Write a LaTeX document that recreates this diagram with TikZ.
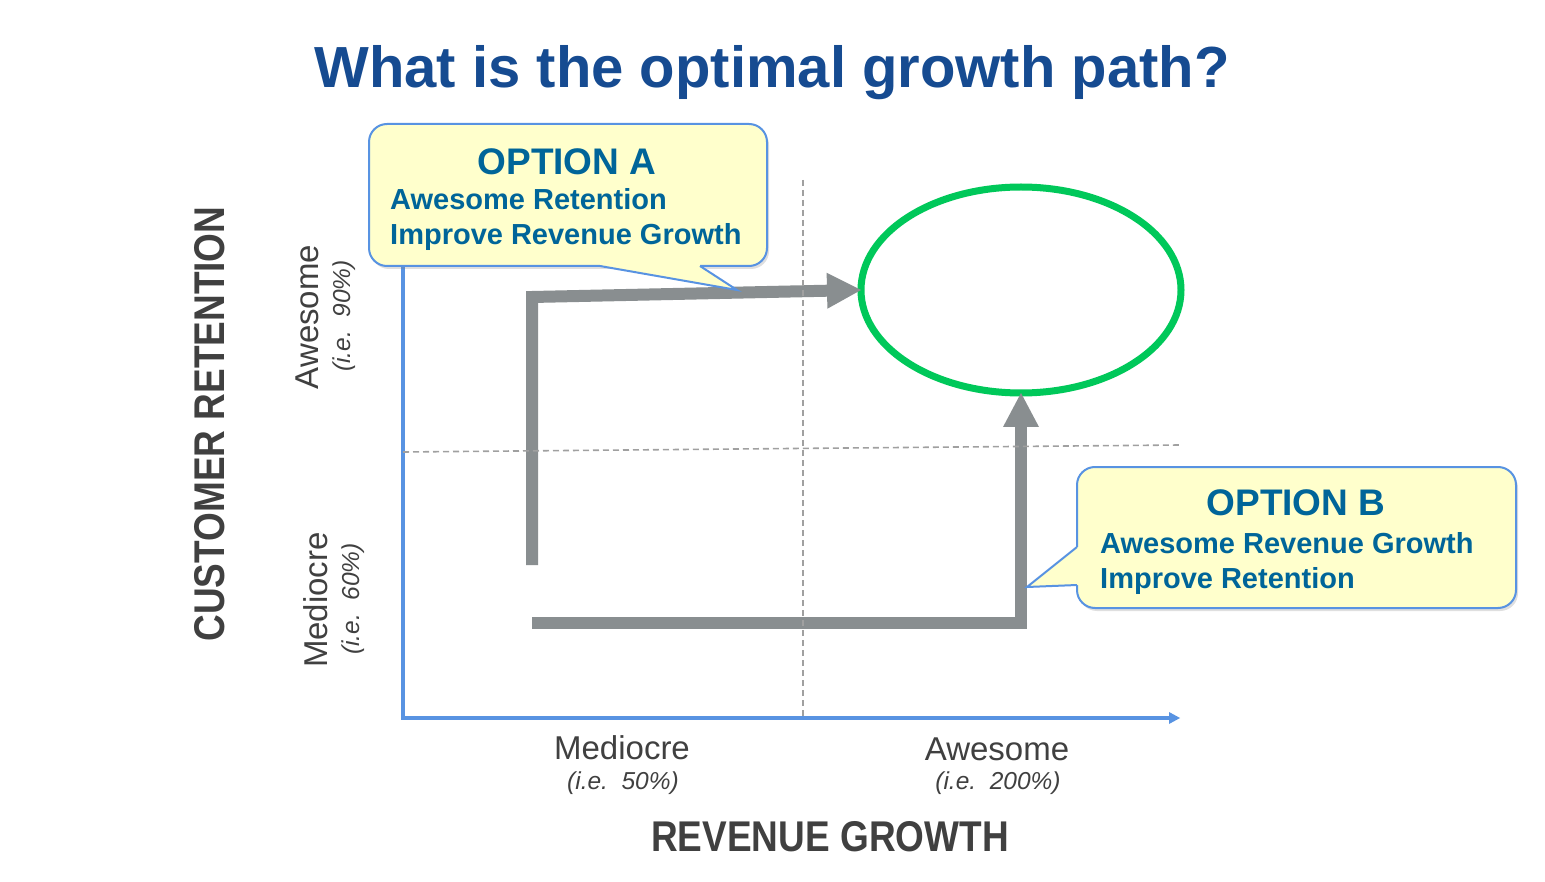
\documentclass[tikz,border=0pt]{standalone}
\usepackage{fontspec}
\setmainfont{Liberation Sans}
\usepackage{graphicx}
\usetikzlibrary{arrows.meta,shapes.geometric,shadows}
\definecolor{titleblue}{RGB}{22,75,145}
\definecolor{calltext}{RGB}{0,101,153}
\definecolor{axisblue}{RGB}{88,147,226}
\definecolor{callfill}{RGB}{255,255,204}
\definecolor{arrowgray}{RGB}{137,142,144}
\definecolor{goalgreen}{RGB}{0,200,90}
\definecolor{dashgray}{RGB}{160,160,160}
\definecolor{labelgray}{RGB}{64,64,64}
\tikzset{
  gridline/.style={dashgray, line width=1.6pt, dash pattern=on 6pt off 4pt},
  axisline/.style={axisblue, line width=3.5pt},
  growpath/.style={arrowgray, line width=12pt, line join=miter,
    -{Triangle[length=34pt,width=36pt,line width=0pt]}},
  callbox/.style={draw=axisblue, fill=callfill, line width=2pt, rounded corners=18pt,
    inner sep=0pt, outer sep=0pt, anchor=north west,
    drop shadow={opacity=0.25, shadow xshift=2pt, shadow yshift=-3pt}},
  calledge/.style={draw=axisblue, line width=2pt, line join=miter},
  calltitle/.style={font=\fontsize{37}{37}\selectfont\bfseries, text=calltext, inner sep=0pt, anchor=base},
  callline/.style={font=\fontsize{29}{29}\selectfont\bfseries, text=calltext, inner sep=0pt, anchor=base west},
  ticklabel/.style={font=\fontsize{33}{33}\selectfont, text=labelgray, inner sep=0pt},
  ticknote/.style={font=\fontsize{24.5}{24.5}\selectfont\itshape, text=labelgray, inner sep=0pt},
  axistitle/.style={font=\fontsize{43}{43}\selectfont\bfseries, text=labelgray, inner sep=0pt},
}
\begin{document}
\begin{tikzpicture}[x=1pt,y=-1pt]
\useasboundingbox (0,0) rectangle (1545,882);
\fill[white] (0,0) rectangle (1545,882);

% title
\node[font=\fontsize{58}{58}\selectfont\bfseries, text=titleblue, inner sep=0pt, anchor=base] (title) at (772,88) {What is the optimal growth path?};

% axes
\coordinate (origin) at (403,719.75);
\coordinate (yTop) at (403,200);
\coordinate (xStart) at (401.25,718);
\coordinate (xEnd) at (1180,718);
\draw[axisline] (yTop) -- (origin);
\draw[axisline, -{Triangle[length=11pt,width=12pt,line width=0pt]}] (xStart) -- (xEnd);

% goal ellipse
\node[ellipse, draw=goalgreen, line width=7pt, minimum width=320pt, minimum height=206pt,
      inner sep=0pt, outer sep=0pt] (goal) at (1021,290) {};

% growth paths
\coordinate (aStart) at (532,565);
\coordinate (aCorner) at (532,297);
\draw[growpath] (aStart) -- (aCorner) -- (goal.west);
\coordinate (bStart) at (532,623);
\coordinate (bCorner) at (1021,623);
\draw[growpath] (bStart) -- (bCorner) -- (goal.south);

% grid lines
\coordinate (vTop) at (803,180);
\coordinate (vBot) at (803,718);
\coordinate (hLeft) at (403,452);
\coordinate (hRight) at (1180,445);
\draw[gridline] (vTop) -- (vBot);
\draw[gridline] (hLeft) -- (hRight);

% callout A
\node[callbox, minimum width=398pt, minimum height=142pt] (boxA) at (369,124) {};
\coordinate (tipA) at (737,290);
\fill[callfill] (600,266) -- (tipA) -- (700,266) -- (700,261) -- (600,261) -- cycle;
\draw[calledge] (600,266) -- (tipA) -- (700,266);
\node[calltitle] (optA) at (567,175) {OPTION A};
\node[callline] (optA1) at (390,210) {Awesome Retention};
\node[callline] (optA2) at (390,245) {Improve Revenue Growth};

% callout B
\node[callbox, minimum width=439pt, minimum height=141pt] (boxB) at (1077,467) {};
\coordinate (tipB) at (1027,587);
\fill[callfill] (1077,547) -- (tipB) -- (1077,585) -- (1082,585) -- (1082,547) -- cycle;
\draw[calledge] (1077,547) -- (tipB) -- (1077,585);
\node[calltitle] (optB) at (1296,515) {OPTION B};
\node[callline] (optB1) at (1100,553) {Awesome Revenue Growth};
\node[callline] (optB2) at (1100,588) {Improve Retention};

% x labels
\node[ticklabel] (xMed) at (622,748) {Mediocre};
\node[ticknote] (xMedN) at (623,783) {(i.e.\ \ 50\%)};
\node[ticklabel] (xAwe) at (997,749) {Awesome};
\node[ticknote] (xAweN) at (998,783) {(i.e.\ \ 200\%)};
\node[axistitle] (xTitle) at (830,837) {\scalebox{0.86}[1]{REVENUE GROWTH}};

% y labels
\node[ticklabel, rotate=90] (yAwe) at (307,317) {Awesome};
\node[ticknote, rotate=90] (yAweN) at (344,316) {(i.e.\ \ 90\%)};
\node[ticklabel, rotate=90] (yMed) at (316,600) {Mediocre};
\node[ticknote, rotate=90] (yMedN) at (353,599) {(i.e.\ \ 60\%)};
\node[axistitle, rotate=90] (yTitle) at (210,424) {\scalebox{0.86}[1]{CUSTOMER RETENTION}};
\end{tikzpicture}
\end{document}
